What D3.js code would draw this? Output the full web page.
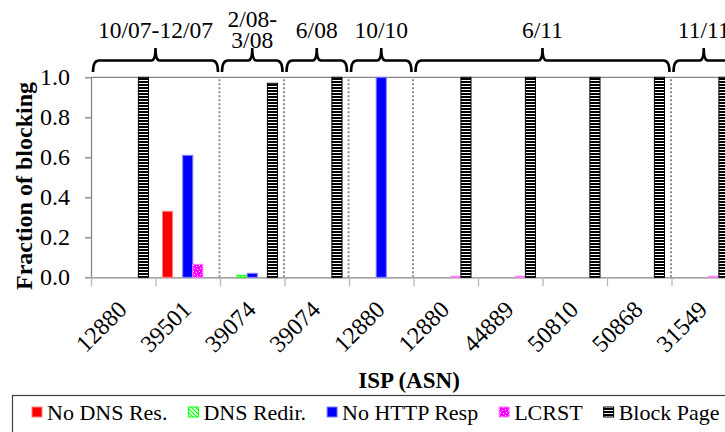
<!DOCTYPE html>
<html>
<head>
<meta charset="utf-8">
<script src="https://cdn.jsdelivr.net/npm/d3@7"></script>
<style>
  body { margin: 0; background: #fff; }
  svg { display: block; font-family: "Liberation Serif", "Times New Roman", serif; }
</style>
</head>
<body>
<svg id="chart" width="725" height="432"></svg>
<script>
// ISP (ASN) per category, in plot order
const categories = ['12880', '39501', '39074', '39074', '12880', '12880', '44889', '50810', '50868', '31549'];
const seriesNames = ['No DNS Res.', 'DNS Redir.', 'No HTTP Resp', 'LCRST', 'Block Page'];

// fraction of blocking
const noDnsRes   = [0, 0.33, 0, 0, 0, 0, 0, 0, 0, 0];
const dnsRedir   = [0, 0, 0.01, 0, 0, 0, 0, 0, 0, 0];
const noHttpResp = [0, 0.61, 0.02, 0, 1.0, 0, 0, 0, 0, 0];
const lcrst      = [0, 0.065, 0, 0, 0, 0.005, 0.005, 0, 0, 0.005];
const blockPage  = [1.0, 0, 0.97, 1.0, 0, 1.0, 1.0, 1.0, 1.0, 1.0];

// time periods, as first/last category index
const groupLabels = [['10/07-12/07'], ['2/08-', '3/08'], ['6/08'], ['10/10'], ['6/11'], ['11/11']];
const groupFirst  = [0, 2, 3, 4, 5, 9];
const groupLast   = [1, 2, 3, 4, 8, 9];

const yTicks = [0, 0.2, 0.4, 0.6, 0.8, 1.0];

const seriesValues = [noDnsRes, dnsRedir, noHttpResp, lcrst, blockPage];
const seriesFill = ['#ff0000', 'url(#hatch)', '#0000ff', 'url(#dots)', 'url(#stripes)'];
const seriesStroke = ['#ff8080', '#00ff00', '#8080ff', '#ff80ff', '#000'];

const plotLeft = 91, plotRight = 736, plotTop = 77.3, plotBottom = 277.3;
const axisGray = '#868686';

const svg = d3.select('#chart');

// patterns
const defs = svg.append('defs');
const stripes = defs.append('pattern').attr('id', 'stripes')
  .attr('patternUnits', 'userSpaceOnUse').attr('width', 6).attr('height', 3);
stripes.append('rect').attr('width', 6).attr('height', 3).attr('fill', '#fff');
stripes.append('rect').attr('width', 6).attr('height', 2).attr('fill', '#000');

const hatch = defs.append('pattern').attr('id', 'hatch')
  .attr('patternUnits', 'userSpaceOnUse').attr('width', 4).attr('height', 4);
hatch.append('rect').attr('width', 4).attr('height', 4).attr('fill', '#fff');
hatch.append('path').attr('d', 'M-1,-1 L5,5 M-1,3 L1,5 M3,-1 L5,1')
  .attr('stroke', '#00ff00').attr('stroke-width', 1.2);

const dots = defs.append('pattern').attr('id', 'dots')
  .attr('patternUnits', 'userSpaceOnUse').attr('width', 6).attr('height', 6);
dots.append('rect').attr('width', 6).attr('height', 6).attr('fill', '#ff00ff');
dots.append('rect').attr('x', 1).attr('y', 1).attr('width', 1).attr('height', 1).attr('fill', '#fff');
dots.append('rect').attr('x', 4).attr('y', 2).attr('width', 1).attr('height', 1).attr('fill', '#fff');
dots.append('rect').attr('x', 2).attr('y', 4).attr('width', 1).attr('height', 1).attr('fill', '#fff');
dots.append('rect').attr('x', 5).attr('y', 5).attr('width', 1).attr('height', 1).attr('fill', '#fff');

// scales
const idx = d3.range(categories.length);
const x = d3.scaleBand().domain(idx).range([plotLeft, plotRight]).padding(0);
const inner = d3.scaleBand().domain(seriesNames).range([7, x.bandwidth() - 7]);
const bound = d3.scaleLinear().domain([0, categories.length]).range([plotLeft, plotRight]);
const y = d3.scaleLinear().domain([0, 1]).range([plotBottom, plotTop]);

// top border of plot area
svg.append('line')
  .attr('x1', plotLeft).attr('x2', plotRight).attr('y1', y(1)).attr('y2', y(1))
  .attr('stroke', axisGray).attr('stroke-width', 1.3);

// y axis
const yAxis = svg.append('g')
  .attr('transform', 'translate(' + plotLeft + ',0)')
  .call(d3.axisLeft(y).tickValues(yTicks).tickFormat(d3.format('.1f')).tickSize(6).tickSizeOuter(0).tickPadding(15));
yAxis.select('.domain').attr('stroke', axisGray).attr('stroke-width', 1.3);
yAxis.selectAll('.tick line').attr('stroke', axisGray).attr('stroke-width', 1.3);
yAxis.selectAll('.tick text')
  .attr('font-family', '"Liberation Serif", serif').attr('font-size', 24).attr('fill', '#000');

// x axis, ticks on category boundaries
const xAxis = svg.append('g')
  .attr('transform', 'translate(0,' + plotBottom + ')')
  .call(d3.axisBottom(bound).ticks(categories.length).tickFormat('').tickSize(9).tickSizeOuter(0));
xAxis.select('.domain').attr('stroke', axisGray).attr('stroke-width', 1.3);
xAxis.selectAll('.tick line').attr('stroke', '#b8b8b8').attr('stroke-width', 1.3);

// dotted period separators
svg.append('g').selectAll('line')
  .data(groupFirst.slice(1))
  .join('line')
  .attr('x1', d => bound(d) - 0.5).attr('x2', d => bound(d) - 0.5)
  .attr('y1', y(1) + 2).attr('y2', plotBottom)
  .attr('stroke', '#8c8c8c').attr('stroke-width', 2)
  .attr('stroke-dasharray', '2,2');

// bars
seriesNames.forEach((name, s) => {
  svg.append('g').selectAll('rect')
    .data(idx.filter(i => seriesValues[s][i] > 0))
    .join('rect')
    .attr('x', i => x(i) + inner(name))
    .attr('y', i => y(seriesValues[s][i]))
    .attr('width', inner.bandwidth())
    .attr('height', i => plotBottom - y(seriesValues[s][i]))
    .attr('fill', seriesFill[s])
    .attr('stroke', seriesStroke[s])
    .attr('stroke-width', 1);
});

// x tick labels
svg.append('g').selectAll('text')
  .data(idx)
  .join('text')
  .attr('transform', i => 'translate(' + (x(i) + x.bandwidth() / 2 + 5) + ',311) rotate(-45)')
  .attr('text-anchor', 'end')
  .attr('font-size', 24)
  .text(i => categories[i]);

// period braces and labels
const brace = (xa, xb) => {
  const m = (xa + xb) / 2, yl = 60.5;
  return 'M' + xa + ',72 Q' + xa + ',' + yl + ' ' + (xa + 6) + ',' + yl +
    ' L' + (m - 4) + ',' + yl + ' Q' + m + ',' + yl + ' ' + m + ',48' +
    ' Q' + m + ',' + yl + ' ' + (m + 4) + ',' + yl +
    ' L' + (xb - 6) + ',' + yl + ' Q' + xb + ',' + yl + ' ' + xb + ',72';
};
const groups = svg.append('g').selectAll('g')
  .data(d3.range(groupLabels.length))
  .join('g');
groups.append('path')
  .attr('d', g => brace(bound(groupFirst[g]) + 2, bound(groupLast[g] + 1) - 2))
  .attr('fill', 'none').attr('stroke', '#000').attr('stroke-width', 2.6);
groups.each(function(g) {
  const lines = groupLabels[g];
  const cx = (bound(groupFirst[g]) + bound(groupLast[g] + 1)) / 2;
  d3.select(this).selectAll('text')
    .data(lines)
    .join('text')
    .attr('x', cx)
    .attr('y', (d, k) => lines.length > 1 ? 27 + k * 21 : 38)
    .attr('text-anchor', 'middle')
    .attr('font-size', 23.5)
    .text(d => d);
});

// axis titles
svg.append('text')
  .attr('transform', 'translate(32,186) rotate(-90)')
  .attr('text-anchor', 'middle')
  .attr('font-size', 24).attr('font-weight', 'bold')
  .text('Fraction of blocking');
svg.append('text')
  .attr('x', 409).attr('y', 388)
  .attr('text-anchor', 'middle')
  .attr('font-size', 23).attr('font-weight', 'bold')
  .text('ISP (ASN)');

// legend
const legend = svg.append('g');
legend.append('rect')
  .attr('x', 12.5).attr('y', 395.5).attr('width', 740).attr('height', 60)
  .attr('fill', '#fff').attr('stroke', '#404040').attr('stroke-width', 1.2);
let lx = 32;
seriesNames.forEach((name, s) => {
  const item = legend.append('g');
  item.append('rect')
    .attr('x', lx).attr('y', 407).attr('width', 10).attr('height', 10)
    .attr('fill', s === 4 ? 'url(#stripes)' : seriesFill[s])
    .attr('stroke', seriesStroke[s]).attr('stroke-width', 1);
  const t = item.append('text')
    .attr('x', lx + 15).attr('y', 420)
    .attr('font-size', 22)
    .text(name);
  lx += 15 + t.node().getComputedTextLength() + 21;
});
</script>
</body>
</html>
